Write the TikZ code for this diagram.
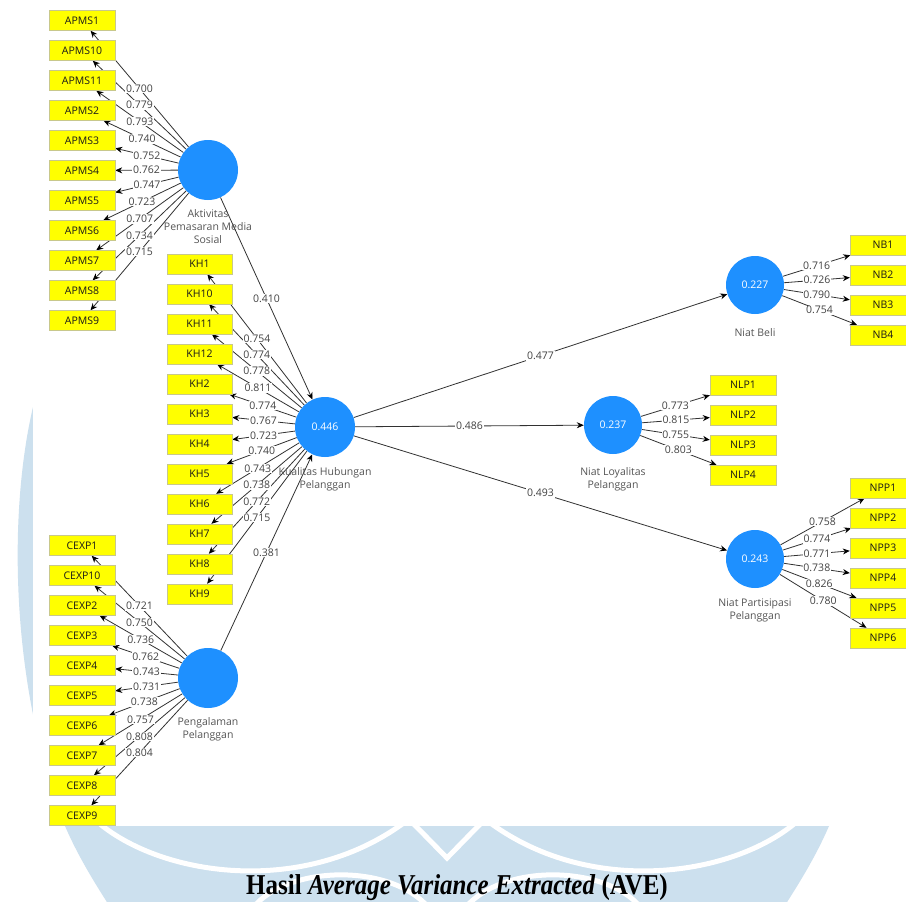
\documentclass[tikz,border=0pt]{standalone}
\usepackage{fontspec}
\setmainfont{Open Sans}
\newfontfamily\titlefont{Liberation Serif}
\usetikzlibrary{arrows.meta,calc}
\pgfdeclarelayer{back}
\pgfdeclarelayer{edges}
\pgfsetlayers{back,edges,main}
\definecolor{latc}{RGB}{30,144,255}
\definecolor{indc}{RGB}{255,255,0}
\definecolor{indborder}{RGB}{200,200,140}
\definecolor{wm}{RGB}{204,224,238}
\definecolor{edgec}{RGB}{50,50,50}
\definecolor{lblc}{RGB}{65,65,65}
\definecolor{latlblc}{RGB}{85,85,85}
\begin{document}
\begin{tikzpicture}[x=1pt,y=-1pt,
  indbox/.style={rectangle, fill=indc, draw=indborder, line width=0.4pt, minimum width=66pt, minimum height=20pt, inner sep=0pt, font=\fontsize{10.5}{12}\selectfont, text=black!90},
  latent/.style={circle, fill=latc, minimum size=60pt, inner sep=0pt, text=white, font=\fontsize{10.5}{12}\selectfont},
  latentsm/.style={latent, minimum size=58pt},
  latlbl/.style={align=center, text=latlblc, font=\fontsize{10.5}{13}\selectfont, inner sep=0pt, anchor=north},
  edge/.style={draw=edgec, line width=0.8pt, -{Stealth[length=7pt,width=6pt,color=black]}},
  lbl/.style={fill=white, inner sep=0.8pt, text=lblc, font=\fontsize{10.5}{12}\selectfont},
  wmline/.style={draw=white, line width=5pt}
]
\useasboundingbox (0,0) rectangle (906,902);

% latent variables
\node[latent] (apms) at (208,170) {};
\node[latent] (kh) at (325,427) {0.446};
\node[latent] (cexp) at (208,678) {};
\node[latentsm] (nb) at (755,285) {0.227};
\node[latentsm] (nlp) at (613,425) {0.237};
\node[latentsm] (npp) at (755,559) {0.243};

\node[latlbl] (apmsL) at (208,209) {Aktivitas\\Pemasaran Media\\Sosial};
\node[latlbl] (khL) at (325,467) {Kualitas Hubungan\\Pelanggan};
\node[latlbl] (cexpL) at (208,717) {Pengalaman\\Pelanggan};
\node[latlbl] (nbL) at (755,328) {Niat Beli};
\node[latlbl] (nlpL) at (613,467) {Niat Loyalitas\\Pelanggan};
\node[latlbl] (nppL) at (755,599) {Niat Partisipasi\\Pelanggan};

% indicators
\foreach \n [count=\i from 0] in {APMS1,APMS10,APMS11,APMS2,APMS3,APMS4,APMS5,APMS6,APMS7,APMS8,APMS9}
  \node[indbox] (\n) at (82,20.5+30*\i) {\n};
\foreach \n [count=\i from 0] in {KH1,KH10,KH11,KH12,KH2,KH3,KH4,KH5,KH6,KH7,KH8,KH9}
  \node[indbox, minimum width=65pt] (\n) at (199.5,264+30*\i) {\n};
\foreach \n [count=\i from 0] in {CEXP1,CEXP10,CEXP2,CEXP3,CEXP4,CEXP5,CEXP6,CEXP7,CEXP8,CEXP9}
  \node[indbox] (\n) at (82,545.5+30*\i) {\n};
\foreach \n [count=\i from 0] in {NB1,NB2,NB3,NB4}
  \node[indbox] (\n) at (883,245+30*\i) {\n};
\foreach \n [count=\i from 0] in {NLP1,NLP2,NLP3,NLP4}
  \node[indbox] (\n) at (743,385+30*\i) {\n};
\foreach \n [count=\i from 0] in {NPP1,NPP2,NPP3,NPP4,NPP5,NPP6}
  \node[indbox] (\n) at (883,488+30*\i) {\n};

% title
\node[anchor=base, inner sep=0pt, font=\titlefont\fontsize{25}{30}\selectfont\bfseries] (title) at (457,894) {\scalebox{1}[1.15]{Hasil \textit{Average Variance Extracted} (AVE)}};

% background and watermark
\begin{pgfonlayer}{back}
\fill[white] (0,0) rectangle (906,902);
\fill[wm] (36,395) .. controls (8,500) and (8,680) .. (65,826) .. controls (78,856) and (94,882) .. (112,910)
  -- (782,910) .. controls (800,882) and (816,856) .. (829,826) .. controls (886,680) and (886,500) .. (858,395) -- cycle;
\draw[wmline] (90,815) .. controls (150,875) and (300,900) .. (405,822);
\draw[wmline] (804,815) .. controls (744,875) and (594,900) .. (489,822);
\draw[wmline] (405,815) -- (447,858) -- (489,815);
\draw[wmline] (250,912) .. controls (280,865) and (395,860) .. (432,912);
\draw[wmline] (644,912) .. controls (614,865) and (499,860) .. (462,912);
\fill[white] (33,-1) rectangle (907,826);
\end{pgfonlayer}

% connectors
\begin{pgfonlayer}{edges}
\foreach \n in {APMS1,APMS10,APMS11,APMS2,APMS3,APMS4,APMS5,APMS6,APMS7,APMS8,APMS9}
  \draw[edge] (apms) -- (\n);
\foreach \n in {KH1,KH10,KH11,KH12,KH2,KH3,KH4,KH5,KH6,KH7,KH8,KH9}
  \draw[edge] (kh) -- (\n);
\foreach \n in {CEXP1,CEXP10,CEXP2,CEXP3,CEXP4,CEXP5,CEXP6,CEXP7,CEXP8,CEXP9}
  \draw[edge] (cexp) -- (\n);
\foreach \n in {NB1,NB2,NB3,NB4}
  \draw[edge] (nb) -- (\n);
\foreach \n in {NLP1,NLP2,NLP3,NLP4}
  \draw[edge] (nlp) -- (\n);
\foreach \n in {NPP1,NPP2,NPP3,NPP4,NPP5,NPP6}
  \draw[edge] (npp) -- (\n);
\draw[edge] (apms) -- (kh);
\draw[edge] (cexp) -- (kh);
\draw[edge] (kh) -- (nb);
\draw[edge] (kh) -- (nlp);
\draw[edge] (kh) -- (npp);
% labels
\foreach \n/\v in {APMS1/0.700,APMS10/0.779,APMS11/0.793,APMS2/0.740,APMS3/0.752,APMS4/0.762,APMS5/0.747,APMS6/0.723,APMS7/0.707,APMS8/0.734,APMS9/0.715}
  \path (apms) -- node[lbl] {\v} (\n);
\foreach \n/\v in {KH1/0.754,KH10/0.774,KH11/0.778,KH12/0.811,KH2/0.774,KH3/0.767,KH4/0.723,KH5/0.740,KH6/0.743,KH7/0.738,KH8/0.772,KH9/0.715}
  \path (kh) -- node[lbl] {\v} (\n);
\foreach \n/\v in {CEXP1/0.721,CEXP10/0.750,CEXP2/0.736,CEXP3/0.762,CEXP4/0.743,CEXP5/0.731,CEXP6/0.738,CEXP7/0.757,CEXP8/0.808,CEXP9/0.804}
  \path (cexp) -- node[lbl] {\v} (\n);
\foreach \n/\v in {NB1/0.716,NB2/0.726,NB3/0.790,NB4/0.754}
  \path (nb) -- node[lbl] {\v} (\n);
\foreach \n/\v in {NLP1/0.773,NLP2/0.815,NLP3/0.755,NLP4/0.803}
  \path (nlp) -- node[lbl] {\v} (\n);
\foreach \n/\v in {NPP1/0.758,NPP2/0.774,NPP3/0.771,NPP4/0.738,NPP5/0.826,NPP6/0.780}
  \path (npp) -- node[lbl] {\v} (\n);
\path (apms) -- node[lbl] {0.410} (kh);
\path (cexp) -- node[lbl] {0.381} (kh);
\path (kh) -- node[lbl] {0.477} (nb);
\path (kh) -- node[lbl] {0.486} (nlp);
\path (kh) -- node[lbl] {0.493} (npp);
\end{pgfonlayer}
\end{tikzpicture}
\end{document}
